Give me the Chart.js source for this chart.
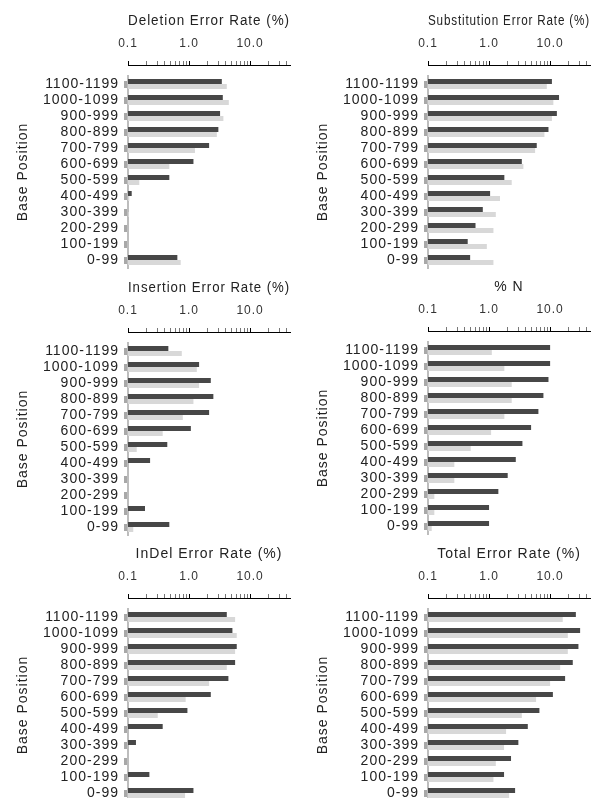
<!DOCTYPE html>
<html><head><meta charset="utf-8">
<script src="https://cdn.jsdelivr.net/npm/chart.js@4.4.1/dist/chart.umd.min.js"></script>
<style>
html,body{margin:0;padding:0;background:#fff;overflow:hidden;width:615px;height:798px;position:relative;}
canvas{position:absolute;}
</style></head><body>
<canvas id="c0" width="300" height="280" style="left:0;top:0"></canvas>
<canvas id="c1" width="315" height="280" style="left:300px;top:0"></canvas>
<canvas id="c2" width="300" height="280" style="left:0;top:267px"></canvas>
<canvas id="c3" width="315" height="280" style="left:300px;top:266px"></canvas>
<canvas id="c4" width="300" height="280" style="left:0;top:533px"></canvas>
<canvas id="c5" width="315" height="280" style="left:300px;top:533px"></canvas>
<script>
// ---- data ----
const categories = ['1100-1199','1000-1099','900-999','800-899','700-799','600-699','500-599','400-499','300-399','200-299','100-199','0-99'];

const deletionDark  = [3.44, 3.57, 3.22, 3.02, 2.13, 1.18, 0.475, 0.115, null, null, null, 0.643];
const deletionLight = [4.15, 4.48, 3.65, 2.85, 1.25, 0.475, 0.153, 0.105, 0.103, null, null, 0.73];

const substitutionDark  = [10.7, 14.0, 12.9, 9.4, 6.04, 3.44, 1.78, 1.04, 0.79, 0.60, 0.447, 0.49];
const substitutionLight = [8.83, 11.3, 10.7, 8.07, 5.68, 3.65, 2.35, 1.51, 1.29, 1.18, 0.92, 1.18];

const insertionDark  = [0.458, 1.46, 2.27, 2.50, 2.13, 1.07, 0.44, 0.23, null, null, 0.19, 0.475];
const insertionLight = [0.76, 1.34, 1.46, 1.18, 0.79, 0.37, 0.139, null, null, null, null, 0.122];

const percentNDark  = [10.0, 10.0, 9.4, 7.77, 6.43, 4.88, 3.52, 2.74, 2.02, 1.42, 1.0, 1.0];
const percentNLight = [1.11, 1.78, 2.35, 2.35, 1.78, 1.08, 0.50, 0.27, 0.27, 0.127, 0.127, 0.115];

const indelDark  = [4.15, 5.13, 6.04, 5.68, 4.41, 2.27, 0.94, 0.37, 0.135, null, 0.224, 1.18];
const indelLight = [5.68, 6.04, 5.68, 4.15, 2.13, 0.88, 0.307, null, null, null, null, 0.86];

const totalDark  = [26.4, 31.0, 29.1, 23.5, 17.6, 11.1, 6.68, 4.31, 3.02, 2.29, 1.76, 2.67];
const totalLight = [16.1, 19.5, 19.5, 14.6, 10.0, 5.89, 3.44, 1.9, 1.76, 1.29, 1.18, 2.13];

const axisTickValues = [0.1,0.2,0.3,0.4,0.5,0.6,0.7,0.8,0.9,1,2,3,4,5,6,7,8,9,10,20,30,40];
const labeledTickValues = [0.1, 1, 10];
const labeledTickText = ['0.1', '1.0', '10.0'];
const axisMin = 0.1, axisMax = 45;

const panelTitles = ['Deletion Error Rate (%)','Substitution Error Rate (%)','Insertion Error Rate (%)','% N','InDel Error Rate (%)','Total Error Rate (%)'];
const yTitle = 'Base Position';

// ---- styling ----
const FONT = "'Liberation Sans', Arial, Helvetica, sans-serif";
const DARK = '#474747', LIGHT = '#d8d8d8';

const tweak = {
  id: 'tweak',
  beforeUpdate(c){ c.ctx.letterSpacing = '1px'; },
  beforeDraw(c){ c.ctx.letterSpacing = '1px'; },
  afterLayout(c){ const x = c.scales.x; x.top -= 11; x.bottom -= 11; }
};

function labelFor(v){
  for (let i = 0; i < labeledTickValues.length; i++) {
    if (Math.abs(v - labeledTickValues[i]) < 1e-9) return labeledTickText[i];
  }
  return '';
}

function makePanel(id, title, dark, light, rightPad){
  new Chart(document.getElementById(id), {
    type: 'bar',
    data: {
      labels: categories,
      datasets: [
        {label: 'Series 1', data: dark, backgroundColor: DARK, borderWidth: 0},
        {label: 'Series 2', data: light, backgroundColor: LIGHT, borderWidth: 0}
      ]
    },
    plugins: [tweak],
    options: {
      responsive: false,
      animation: false,
      indexAxis: 'y',
      categoryPercentage: 0.625,
      barPercentage: 1.0,
      layout: {padding: {top: 4, right: rightPad, bottom: 12, left: 0}},
      plugins: {legend: {display: false}, tooltip: {enabled: false}},
      scales: {
        x: {
          type: 'logarithmic',
          position: 'top',
          min: axisMin, max: axisMax,
          afterBuildTicks: s => { s.ticks = axisTickValues.map(v => ({value: v})); },
          afterFit: s => { s.height = 72; },
          ticks: {
            autoSkip: false, maxRotation: 0, minRotation: 0,
            padding: 10,
            color: '#333',
            font: {family: FONT, size: 12},
            callback: v => labelFor(v)
          },
          grid: {
            display: true, drawOnChartArea: false, drawTicks: true, tickLength: 4,
            tickColor: ctx => (ctx.tick && labeledTickValues.some(t => Math.abs(t - ctx.tick.value) < 1e-9)) ? '#000' : '#777',
            tickWidth: 1
          },
          border: {display: true, color: '#000', width: 1},
          title: {display: true, text: title, color: '#222', font: {family: FONT, size: 14}, padding: {top: 20, bottom: 0}}
        },
        y: {
          type: 'category',
          offset: true,
          afterFit: s => { s.width = 128; },
          ticks: {autoSkip: false, padding: 5, color: '#222', font: {family: FONT, size: 14, lineHeight: 1}},
          grid: {display: true, offset: false, drawOnChartArea: false, drawTicks: true, tickLength: 4, tickWidth: 7, tickColor: '#a8a8a8'},
          border: {display: true, color: '#bdbdbd', width: 2},
          title: {display: true, text: yTitle, color: '#222', font: {family: FONT, size: 14}, padding: {top: 15, bottom: 0}}
        }
      }
    }
  });
}

makePanel('c0', panelTitles[0], deletionDark, deletionLight, 10);
makePanel('c1', panelTitles[1], substitutionDark, substitutionLight, 25);
makePanel('c2', panelTitles[2], insertionDark, insertionLight, 10);
makePanel('c3', panelTitles[3], percentNDark, percentNLight, 25);
makePanel('c4', panelTitles[4], indelDark, indelLight, 10);
makePanel('c5', panelTitles[5], totalDark, totalLight, 25);
</script>
</body></html>
